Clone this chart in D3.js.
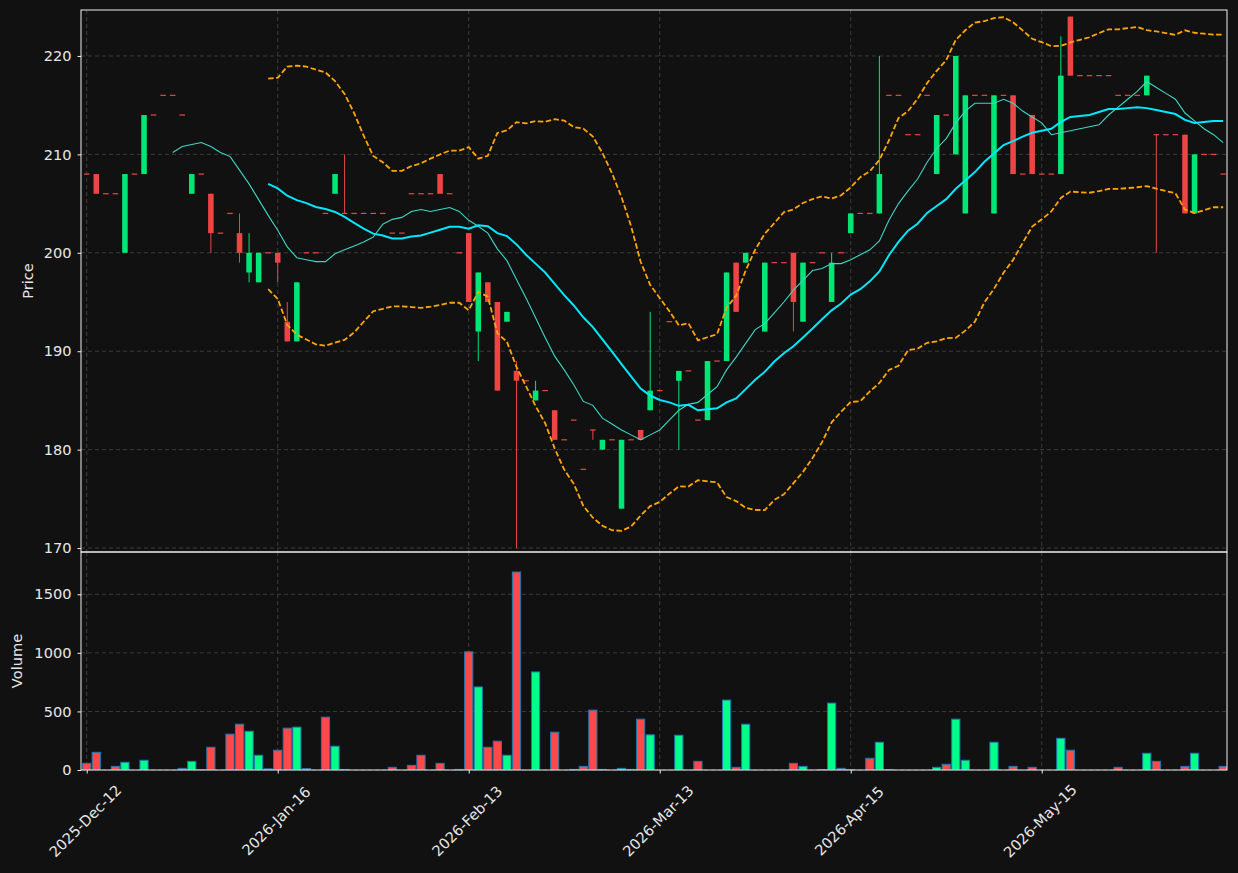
<!DOCTYPE html>
<html>
<head>
<meta charset="utf-8">
<script src="https://cdn.jsdelivr.net/npm/d3@7"></script>
<style>
body { margin: 0; background: #111111; }
svg { display: block; font-family: "DejaVu Sans", sans-serif; }
</style>
</head>
<body>
<svg id="chart" width="1238" height="873"></svg>
<script>
// tick labels on the bar index axis
var tickIdx = [0, 20, 40, 60, 80, 100];
var tickLabels = ["2025-Dec-12", "2026-Jan-16", "2026-Feb-13", "2026-Mar-13", "2026-Apr-15", "2026-May-15"];
var priceTicks = [170, 180, 190, 200, 210, 220];
var volTicks = [0, 500, 1000, 1500];

// OHLC + volume, one entry per bar (120 bars)
var opens = [208,208,206,206,200,208,208,214,216,216,
  214,206,208,206,202,204,202,198,197,200,
  200,193,191,200,200,204,206,204,204,204,
  204,204,202,202,206,206,206,208,206,200,
  202,192,197,195,193,188,187,185,186,184,
  181,183,178,182,180,181,174,181,182,184,
  186,193,187,188,183,183,189,189,199,199,
  200,192,199,199,200,193,199,200,195,200,
  202,204,204,204,216,216,212,212,216,208,
  214,210,204,216,216,204,216,216,208,214,
  208,208,208,224,218,218,218,218,216,216,
  216,216,212,212,212,212,204,210,210,208];
var highs = [208,208,206,206,208,208,214,214,216,216,
  214,208,208,206,202,204,204,202,200,200,
  200,195,197,200,200,204,208,210,204,204,
  204,204,202,202,206,206,206,208,206,200,
  202,198,197,195,194,189,187,187,186,184,
  181,183,178,182,181,181,181,181,182,194,
  186,193,188,188,183,189,189,198,199,200,
  200,199,199,199,200,199,199,200,200,200,
  204,204,204,220,216,216,212,212,216,214,
  214,220,216,216,216,216,216,216,208,214,
  208,208,222,224,218,218,218,218,216,216,
  216,218,212,212,212,212,210,210,210,208];
var lows = [208,206,206,206,200,208,208,214,216,216,
  214,206,208,200,202,204,199,197,197,200,
  197,191,191,200,200,204,206,204,204,204,
  204,204,202,202,206,206,206,206,206,200,
  195,189,195,186,193,170,187,185,186,181,
  181,183,178,181,180,181,174,181,181,184,
  186,193,180,188,183,183,189,189,194,199,
  200,192,199,199,192,193,199,200,195,200,
  202,204,204,204,216,216,212,212,216,208,
  214,210,204,216,216,204,216,208,208,208,
  208,208,208,218,218,218,218,218,216,216,
  216,216,200,212,212,204,204,210,210,208];
var closes = [208,206,206,206,208,208,214,214,216,216,
  214,208,208,202,202,204,200,200,200,200,
  199,191,197,200,200,204,208,204,204,204,
  204,204,202,202,206,206,206,206,206,200,
  195,198,195,186,194,187,187,186,186,181,
  181,183,178,182,181,181,181,181,181,186,
  186,193,188,188,183,189,189,198,194,200,
  200,199,199,199,195,199,199,200,199,200,
  204,204,204,208,216,216,212,212,216,214,
  214,220,216,216,216,216,216,208,208,208,
  208,208,218,218,218,218,218,218,216,216,
  216,218,212,212,212,204,210,210,210,208];
var volumes = [57,151,0,31,66,0,83,0,0,0,
  14,74,3,194,0,306,391,331,126,10,
  169,357,366,12,0,451,203,5,0,0,
  0,0,23,0,40,126,0,57,0,5,
  1009,709,194,246,126,1690,0,837,0,323,
  0,5,31,511,5,0,14,5,434,300,
  0,0,297,0,74,0,0,597,23,391,
  0,0,0,0,57,31,0,3,571,14,
  3,0,100,237,3,0,0,0,0,23,
  49,434,83,0,0,237,0,31,0,23,
  0,0,271,169,0,0,0,0,23,0,
  0,143,74,0,0,31,143,0,0,31];

// rolling helpers
function rolling(arr, n, fn) {
  return arr.map(function(v, i) {
    if (i < n - 1) return null;
    return fn(arr.slice(i - n + 1, i + 1));
  });
}
var ma10 = rolling(closes, 10, d3.mean);
var ma20 = rolling(closes, 20, d3.mean);
var sd20 = rolling(closes, 20, function(w) {
  var m = d3.mean(w);
  return Math.sqrt(d3.mean(w, function(v) { return (v - m) * (v - m); }));
});
var bbUp = ma20.map(function(m, i) { return m == null ? null : m + 2 * sd20[i]; });
var bbLo = ma20.map(function(m, i) { return m == null ? null : m - 2 * sd20[i]; });

var svg = d3.select("#chart");
svg.append("rect").attr("width", 1238).attr("height", 873).attr("fill", "#111111");

var left = 81, right = 1227;
var pTop = 10, pBot = 552, vTop = 552, vBot = 770;

var x = d3.scaleLinear().domain([-0.6, 119.4]).range([left, right]);
var yP = d3.scaleLinear().domain([169.6, 224.67]).range([pBot, pTop]);
var yV = d3.scaleLinear().domain([0, 1861]).range([vBot, vTop]);

var upC = "#00e676", dnC = "#ef4444";
var upV = "#00ff88", dnV = "#ff4848";
var gridC = "#3c3c3c", textC = "#e6e6e6";
var fs = "14.6px";

var step = x(1) - x(0);

// clip paths
var defs = svg.append("defs");
defs.append("clipPath").attr("id", "clipP").append("rect")
  .attr("x", left).attr("y", pTop).attr("width", right - left).attr("height", pBot - pTop);
defs.append("clipPath").attr("id", "clipV").append("rect")
  .attr("x", left).attr("y", vTop).attr("width", right - left).attr("height", vBot - vTop);

// grids
var grid = svg.append("g");
priceTicks.forEach(function(t) {
  grid.append("line").attr("x1", left).attr("x2", right).attr("y1", yP(t)).attr("y2", yP(t))
    .attr("stroke", gridC).attr("stroke-dasharray", "4,3");
});
volTicks.forEach(function(t) {
  grid.append("line").attr("x1", left).attr("x2", right).attr("y1", yV(t)).attr("y2", yV(t))
    .attr("stroke", gridC).attr("stroke-dasharray", "4,3");
});
tickIdx.forEach(function(t) {
  grid.append("line").attr("x1", x(t)).attr("x2", x(t)).attr("y1", pTop).attr("y2", pBot)
    .attr("stroke", gridC).attr("stroke-dasharray", "4,3");
  grid.append("line").attr("x1", x(t)).attr("x2", x(t)).attr("y1", vTop).attr("y2", vBot)
    .attr("stroke", gridC).attr("stroke-dasharray", "4,3");
});

// candles
var bars = d3.range(closes.length).map(function(i) {
  return { i: i, o: opens[i], h: highs[i], l: lows[i], c: closes[i], v: volumes[i] };
});
var gc = svg.append("g").attr("clip-path", "url(#clipP)");
var bodyW = step * 0.58;
gc.selectAll(".wick").data(bars.filter(function(d) { return d.h > d.l; }))
  .enter().append("line")
  .attr("x1", function(d) { return x(d.i); }).attr("x2", function(d) { return x(d.i); })
  .attr("y1", function(d) { return yP(d.h); }).attr("y2", function(d) { return yP(d.l); })
  .attr("stroke", function(d) { return d.c > d.o ? upC : dnC; })
  .attr("stroke-width", 1);
gc.selectAll(".body").data(bars).enter().append("rect")
  .attr("x", function(d) { return x(d.i) - bodyW / 2; })
  .attr("width", bodyW)
  .attr("y", function(d) { return d.o == d.c ? yP(d.c) - 0.6 : yP(Math.max(d.o, d.c)); })
  .attr("height", function(d) { return d.o == d.c ? 1.2 : Math.abs(yP(d.o) - yP(d.c)); })
  .attr("fill", function(d) { return d.c > d.o ? upC : dnC; });

// moving averages and bands
function lineOf(arr) {
  return d3.line()
    .defined(function(d) { return d != null; })
    .x(function(d, i) { return x(i); })
    .y(function(d) { return yP(d); })(arr);
}
gc.append("path").attr("d", lineOf(ma10)).attr("fill", "none")
  .attr("stroke", "#3fd6c4").attr("stroke-width", 1.1);
gc.append("path").attr("d", lineOf(ma20)).attr("fill", "none")
  .attr("stroke", "#00e8ff").attr("stroke-width", 2);
[bbUp, bbLo].forEach(function(b) {
  gc.append("path").attr("d", lineOf(b)).attr("fill", "none")
    .attr("stroke", "#ffa500").attr("stroke-width", 1.8).attr("stroke-dasharray", "5.5,2.5");
});

// volume
var gv = svg.append("g").attr("clip-path", "url(#clipV)");
var volW = step * 0.86;
gv.selectAll(".vol").data(bars.filter(function(d) { return d.v > 0; }))
  .enter().append("rect")
  .attr("x", function(d) { return x(d.i) - volW / 2; })
  .attr("width", volW)
  .attr("y", function(d) { return yV(d.v); })
  .attr("height", function(d) { return yV(0) - yV(d.v); })
  .attr("fill", function(d) { return d.c > d.o ? upV : dnV; })
  .attr("stroke", "#1f77b4").attr("stroke-width", 1);

// frames
svg.append("rect").attr("x", left).attr("y", pTop).attr("width", right - left).attr("height", pBot - pTop)
  .attr("fill", "none").attr("stroke", "#f0f0f0").attr("stroke-width", 1);
svg.append("rect").attr("x", left).attr("y", vTop).attr("width", right - left).attr("height", vBot - vTop)
  .attr("fill", "none").attr("stroke", "#f0f0f0").attr("stroke-width", 1);

// axes
var axP = svg.append("g").attr("transform", "translate(" + left + ",0)")
  .call(d3.axisLeft(yP).tickValues(priceTicks).tickSize(3.5).tickPadding(6));
var axV = svg.append("g").attr("transform", "translate(" + left + ",0)")
  .call(d3.axisLeft(yV).tickValues(volTicks).tickSize(3.5).tickPadding(6).tickFormat(d3.format("d")));
var axX = svg.append("g").attr("transform", "translate(0," + vBot + ")")
  .call(d3.axisBottom(x).tickValues(tickIdx).tickSize(3.5)
    .tickFormat(function(d, k) { return tickLabels[k]; }));
[axP, axV, axX].forEach(function(a) {
  a.select(".domain").remove();
  a.selectAll("line").attr("stroke", "#f0f0f0");
  a.selectAll("text").attr("fill", textC).style("font-size", fs)
    .style("font-family", "DejaVu Sans, sans-serif");
});
// rotated labels centred under their tick, like matplotlib rotation=45
axX.selectAll("text")
  .attr("text-anchor", "middle")
  .attr("dy", "0.35em")
  .attr("y", 0).attr("x", 0)
  .attr("transform", "translate(-2,51) rotate(-45)");

svg.append("text").attr("transform", "translate(33," + ((pTop + pBot) / 2) + ") rotate(-90)")
  .attr("text-anchor", "middle").attr("fill", textC).style("font-size", fs).text("Price");
svg.append("text").attr("transform", "translate(22," + ((vTop + vBot) / 2) + ") rotate(-90)")
  .attr("text-anchor", "middle").attr("fill", textC).style("font-size", fs).text("Volume");
</script>
</body>
</html>
